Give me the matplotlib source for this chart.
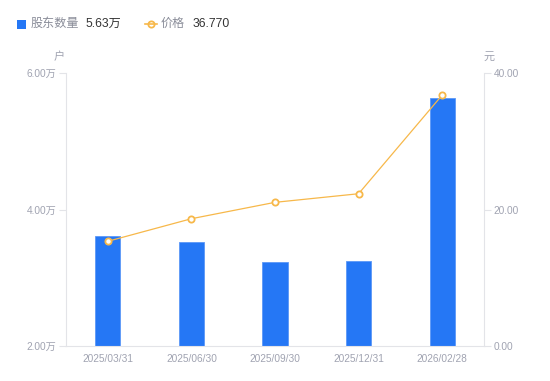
import matplotlib
matplotlib.use("Agg")
import matplotlib.pyplot as plt
from matplotlib.lines import Line2D
from matplotlib.patches import Rectangle

plt.rcParams['font.family'] = ['Liberation Sans', 'Noto Sans CJK SC', 'DejaVu Sans']

categories = ["2025/03/31", "2025/06/30", "2025/09/30", "2025/12/31", "2026/02/28"]
holders = [3.61, 3.53, 3.23, 3.25, 5.63]   # 万户
price = [15.34, 18.65, 21.05, 22.31, 36.77]  # 元
left_ticks = [2.0, 4.0, 6.0]
right_ticks = [0.0, 20.0, 40.0]

BLUE = "#2577F5"
ORANGE = "#F7B84A"
GRAY = "#A0A3B1"
AXIS = "#E3E4E8"

fig = plt.figure(figsize=(5.5, 3.81), dpi=100)
ax = fig.add_axes([66/550, 35/381, 418/550, 273/381])
x = list(range(len(categories)))
ax.bar(x, holders, width=0.3, color=BLUE, edgecolor="#5C98F7", linewidth=0.6, zorder=2)
ax.set_xlim(-0.5, len(categories) - 0.5)
ax.set_ylim(2.0, 6.0)
ax.set_yticks(left_ticks)
ax.set_yticklabels([f"{v:.2f}万" for v in left_ticks])
ax.set_xticks(x)
ax.set_xticklabels(categories)

ax2 = ax.twinx()
ax2.plot(x, price, color=ORANGE, linewidth=0.9, marker='o', markersize=4.5,
         markerfacecolor='white', markeredgecolor=ORANGE, markeredgewidth=1.3, zorder=3)
ax2.set_ylim(0, 40)
ax2.set_yticks(right_ticks)
ax2.set_yticklabels([f"{v:.2f}" for v in right_ticks])

for a in (ax, ax2):
    for s in a.spines.values():
        s.set_visible(False)
    a.tick_params(axis='y', colors=AXIS, labelcolor=GRAY, labelsize=7.3, length=5, width=0.8, pad=2)
ax.tick_params(axis='x', length=0, labelcolor=GRAY, labelsize=7.3, pad=6)
ax.spines['left'].set_visible(True)
ax.spines['left'].set_color(AXIS)
ax.spines['bottom'].set_visible(True)
ax.spines['bottom'].set_color(AXIS)
ax2.spines['right'].set_visible(True)
ax2.spines['right'].set_color(AXIS)
ax.set_zorder(1)
ax2.set_zorder(2)
ax.patch.set_visible(False)

# axis unit labels
fig.text(59/550, 1 - 57/381, "户", color=GRAY, fontsize=8, ha='center', va='center')
fig.text(489/550, 1 - 57/381, "元", color=GRAY, fontsize=8, ha='center', va='center')

# legend
ly = 1 - 24/381
fig.patches.append(Rectangle((17/550, 1 - 28.5/381), 9/550, 9/381, transform=fig.transFigure,
                             facecolor=BLUE, edgecolor='none'))
fig.text(31/550, ly, "股东数量", color="#8A8D99", fontsize=8.7, va='center', ha='left')
fig.text(85/550, ly, f"{holders[-1]:.2f}万", color="#333333", fontsize=8.7, va='center', ha='left')
fig.lines.append(Line2D([145/550, 157/550], [ly, ly], transform=fig.transFigure, color=ORANGE,
                        linewidth=1.2, zorder=5))
fig.lines.append(Line2D([151/550], [ly], transform=fig.transFigure, color=ORANGE, marker='o',
                        markersize=4.5, markerfacecolor='white', markeredgewidth=1.3, linestyle='none'))
fig.text(161/550, ly, "价格", color="#8A8D99", fontsize=8.7, va='center', ha='left')
fig.text(193/550, ly, f"{price[-1]:.3f}", color="#333333", fontsize=8.7, va='center', ha='left')

fig.savefig("out.png", dpi=100)
